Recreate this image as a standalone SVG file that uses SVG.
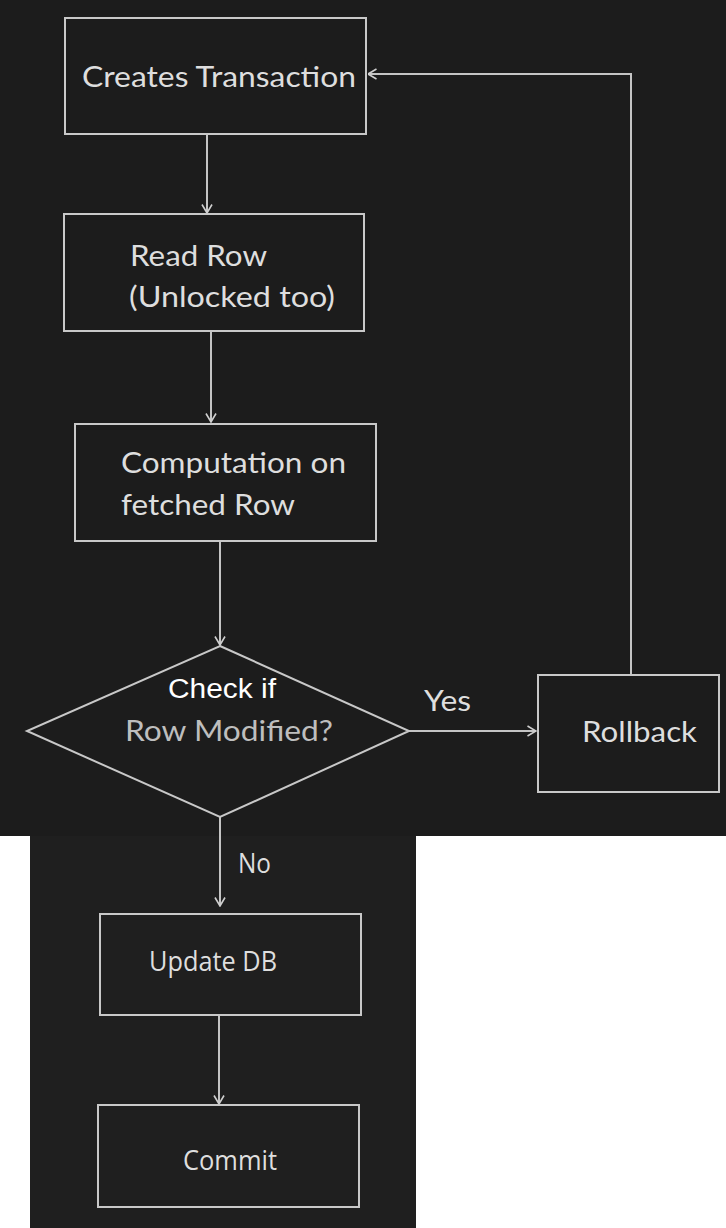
<svg xmlns="http://www.w3.org/2000/svg" width="726" height="1228" viewBox="0 0 726 1228">
  <defs>
    <marker id="arr" viewBox="0 0 10 12" refX="9.5" refY="6" markerWidth="10" markerHeight="12" markerUnits="userSpaceOnUse" orient="auto">
      <path d="M1,1 L9.5,6 L1,11" fill="none" stroke="#cfcfcf" stroke-width="1.6"/>
    </marker>
  </defs>
  <style>
    .box { fill: none; stroke: #c8c8c8; stroke-width: 2; }
    .lbl { font-family: Lato, "Open Sans", sans-serif; font-size: 29px; fill: #dedede; }
    .sm { font-family: "Open Sans", Lato, sans-serif; font-size: 27.5px; }
    .dim { fill: #bebebe; }
    .wht { font-family: "Liberation Sans", Arial, sans-serif; font-size: 27px; fill: #ffffff; }
    .con { fill: none; stroke: #c4c4c4; stroke-width: 2; }
  </style>
  <rect x="0" y="0" width="726" height="1228" fill="#ffffff"/>
  <rect x="0" y="0" width="726" height="836" fill="#1c1c1c"/>
  <rect x="30" y="836" width="386" height="392" fill="#1f1f1f"/>

  <g id="connectors">
    <line class="con" x1="207" y1="134" x2="207" y2="213" marker-end="url(#arr)"/>
    <line class="con" x1="211" y1="331" x2="211" y2="422" marker-end="url(#arr)"/>
    <line class="con" x1="220" y1="541" x2="220" y2="645" marker-end="url(#arr)"/>
    <line class="con" x1="409" y1="731" x2="536" y2="731" marker-end="url(#arr)"/>
    <path class="con" d="M631,674 V74 H368" marker-end="url(#arr)"/>
    <line class="con" x1="220" y1="817" x2="220" y2="906" marker-end="url(#arr)"/>
    <line class="con" x1="219" y1="1015" x2="219" y2="1104" marker-end="url(#arr)"/>
    <text class="lbl" x="424" y="711" textLength="47" lengthAdjust="spacingAndGlyphs">Yes</text>
    <text class="lbl sm" x="238" y="873" textLength="33" lengthAdjust="spacingAndGlyphs">No</text>
  </g>

  <g id="create">
    <rect class="box" x="65" y="18" width="301" height="116"/>
    <text class="lbl" x="82" y="87" textLength="274" lengthAdjust="spacingAndGlyphs">Creates Transaction</text>
  </g>

  <g id="read">
    <rect class="box" x="64" y="214" width="300" height="117"/>
    <text class="lbl" x="130" y="266" textLength="137" lengthAdjust="spacingAndGlyphs">Read Row</text>
    <text class="lbl" x="129" y="307" textLength="206" lengthAdjust="spacingAndGlyphs">(Unlocked too)</text>
  </g>

  <g id="compute">
    <rect class="box" x="75" y="424" width="301" height="117"/>
    <text class="lbl" x="121" y="473" textLength="225" lengthAdjust="spacingAndGlyphs">Computation on</text>
    <text class="lbl" x="121" y="515" textLength="174" lengthAdjust="spacingAndGlyphs">fetched Row</text>
  </g>

  <g id="check">
    <polygon class="box" points="220,646 409,731 220,817 27,731"/>
    <text class="wht" x="168" y="698" textLength="108" lengthAdjust="spacingAndGlyphs">Check if</text>
    <text class="lbl dim" x="125" y="741" textLength="208" lengthAdjust="spacingAndGlyphs">Row Modified?</text>
  </g>

  <g id="rollback">
    <rect class="box" x="538" y="675" width="181" height="117"/>
    <text class="lbl" x="582" y="742" textLength="115" lengthAdjust="spacingAndGlyphs">Rollback</text>
  </g>

  <g id="update">
    <rect class="box" x="100" y="914" width="261" height="101"/>
    <text class="lbl sm" x="149" y="971" textLength="128" lengthAdjust="spacingAndGlyphs">Update DB</text>
  </g>

  <g id="commit">
    <rect class="box" x="98" y="1105" width="261" height="102"/>
    <text class="lbl sm" x="183" y="1170" textLength="94" lengthAdjust="spacingAndGlyphs">Commit</text>
  </g>
</svg>
